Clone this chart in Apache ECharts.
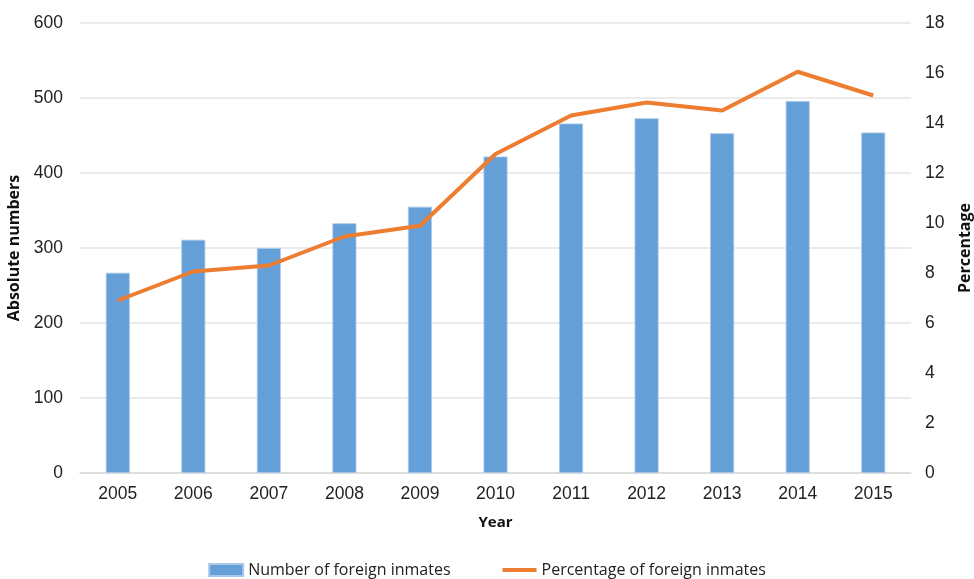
<!DOCTYPE html>
<html>
<head>
<meta charset="utf-8">
<script src="https://cdn.jsdelivr.net/npm/echarts@6/dist/echarts.min.js"></script>
<style>
    html, body { margin: 0; padding: 0; background: #fff; }
    #chart { width: 974px; height: 579px; }
</style>
</head>
<body>
<div id="chart"></div>
<script>
var years = ['2005', '2006', '2007', '2008', '2009', '2010', '2011', '2012', '2013', '2014', '2015'];
var inmates = [267, 311, 300, 333, 355, 422, 466, 473, 453, 496, 454];
var percentage = [6.9, 8.06, 8.3, 9.46, 9.89, 12.76, 14.3, 14.82, 14.5, 16.05, 15.1];
var leftTicks = { min: 0, max: 600, interval: 100 };
var rightTicks = { min: 0, max: 18, interval: 2 };

var labelFont = 'Liberation Sans';
var titleFont = 'Open Sans';

var myChart = echarts.init(document.getElementById('chart'));
var option = {
    animation: false,
    color: ['#659fd7', '#ed7d31'],
    grid: { left: 80, right: 63, top: 23, bottom: 106, outerBoundsMode: 'none', containLabel: false },
    legend: {
        bottom: -4,
        left: 'center',
        itemGap: 52,
        itemWidth: 34,
        itemHeight: 12,
        textStyle: { fontFamily: titleFont, fontSize: 16, color: '#222' },
        data: [
            { name: 'Number of foreign inmates', icon: 'rect' },
            { name: 'Percentage of foreign inmates', icon: 'path://M0,0h34v4h-34z', itemStyle: { color: '#ed7d31' } }
        ]
    },
    xAxis: {
        type: 'category',
        data: years,
        name: 'Year',
        nameLocation: 'middle',
        nameGap: 42,
        nameTextStyle: { fontFamily: titleFont, fontWeight: 'bold', fontSize: 15, color: '#111' },
        axisLine: { lineStyle: { color: '#d9d9d9', width: 1.5 } },
        axisTick: { show: false },
        axisLabel: { fontFamily: labelFont, fontSize: 17.5, color: '#222', margin: 12 }
    },
    yAxis: [
        {
            type: 'value',
            min: leftTicks.min,
            max: leftTicks.max,
            interval: leftTicks.interval,
            name: 'Absolute numbers',
            nameLocation: 'middle',
            nameGap: 50,
            nameTextStyle: { fontFamily: titleFont, fontWeight: 'bold', fontSize: 16, color: '#111' },
            axisLine: { show: false },
            axisTick: { show: false },
            axisLabel: { fontFamily: labelFont, fontSize: 17.5, color: '#222', margin: 17 },
            splitLine: { lineStyle: { color: '#e4e4e4', width: 1.5 } }
        },
        {
            type: 'value',
            min: rightTicks.min,
            max: rightTicks.max,
            interval: rightTicks.interval,
            name: 'Percentage',
            nameLocation: 'middle',
            nameRotate: 90,
            nameGap: 46,
            nameTextStyle: { fontFamily: titleFont, fontWeight: 'bold', fontSize: 16, color: '#111' },
            axisLine: { show: false },
            axisTick: { show: false },
            axisLabel: { fontFamily: labelFont, fontSize: 17.5, color: '#222', margin: 14 },
            splitLine: { show: false }
        }
    ],
    series: [
        {
            name: 'Number of foreign inmates',
            type: 'bar',
            barWidth: 24,
            yAxisIndex: 0,
            itemStyle: { color: '#659fd7', borderColor: '#a9c9ea', borderWidth: 0.8 },
            data: inmates
        },
        {
            name: 'Percentage of foreign inmates',
            type: 'line',
            yAxisIndex: 1,
            symbol: 'none',
            lineStyle: { color: '#ed7d31', width: 4 },
            data: percentage
        }
    ]
};
myChart.setOption(option);
</script>
</body>
</html>
